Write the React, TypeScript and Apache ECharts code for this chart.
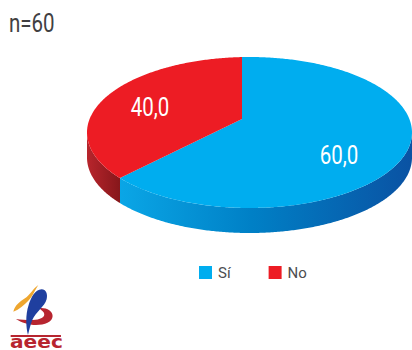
import React, { useEffect, useRef } from "react";
import * as echarts from "echarts";

const categories = ["Sí", "No"];
const shares = [60, 40];
const sliceColors = ["#00adef", "#ed1c24"];
const sampleLabel = "n=60";
const brandName = "aeec";

// Tilted disc geometry
const CX = 249.5;
const CY = 132.5;
const RX = 162.5;
const RY = 75.5;
const DEPTH = 25;
const APEX = { x: 242, y: 119 };
const TILT = 0.352;
const LABEL_SPOTS = [
  [339, 156],
  [150, 108],
];
const SIDE_STOPS = [
  [
    { offset: 0, color: "#0aa6e6" },
    { offset: 0.45, color: "#0080c6" },
    { offset: 1, color: "#0a52a3" },
  ],
  [
    { offset: 0, color: "#b8252c" },
    { offset: 1, color: "#86171b" },
  ],
];
const LABEL_FONT = "Roboto, sans-serif";

// Where a ray from the apex at the given pie angle meets the rim, as an ellipse parameter.
function rimParam(phiDeg: number): number {
  const phi = (phiDeg * Math.PI) / 180;
  const dx = Math.cos(phi);
  const dy = -TILT * Math.sin(phi);
  const ox = (APEX.x - CX) / RX;
  const oy = (APEX.y - CY) / RY;
  const ux = dx / RX;
  const uy = dy / RY;
  const a = ux * ux + uy * uy;
  const b = 2 * (ox * ux + oy * uy);
  const c = ox * ox + oy * oy - 1;
  const s = (-b + Math.sqrt(b * b - 4 * a * c)) / (2 * a);
  return Math.atan2(oy + s * uy, ox + s * ux);
}

function rimPoints(from: number, to: number, yOffset: number): number[][] {
  const steps = Math.max(2, Math.ceil(Math.abs(to - from) / 0.01));
  const pts: number[][] = [];
  for (let i = 0; i <= steps; i++) {
    const t = from + ((to - from) * i) / steps;
    pts.push([CX + RX * Math.cos(t), CY + RY * Math.sin(t) + yOffset]);
  }
  return pts;
}

const total = shares.reduce((sum, v) => sum + v, 0);

function renderSlice(index: number) {
  return (_params: any, api: any) => {
    const value = api.value(0) as number;
    const before = shares.slice(0, index).reduce((sum, v) => sum + v, 0);
    // Slices run clockwise from twelve o'clock.
    const phiStart = 90 - (before / total) * 360;
    const phiEnd = phiStart - (value / total) * 360;
    let tStart = rimParam(phiStart);
    let tEnd = rimParam(phiEnd);
    while (tEnd <= tStart) tEnd += Math.PI * 2;

    const children: any[] = [];

    // Only the rim between t = 0 and t = PI faces the viewer.
    for (const turn of [-2, 0, 2]) {
      const lo = Math.max(tStart, turn * Math.PI);
      const hi = Math.min(tEnd, (turn + 1) * Math.PI);
      if (hi <= lo) continue;
      const top = rimPoints(lo, hi, 0);
      const bottom = rimPoints(hi, lo, DEPTH);
      const xs = top.map((p) => p[0]);
      const minX = Math.min(...xs);
      const maxX = Math.max(...xs);
      children.push({
        type: "polygon",
        shape: { points: [...top, ...bottom] },
        style: {
          fill: new echarts.graphic.LinearGradient(
            minX,
            0,
            maxX,
            0,
            SIDE_STOPS[index],
            true
          ),
        },
      });
    }

    children.push({
      type: "polygon",
      shape: { points: [[APEX.x, APEX.y], ...rimPoints(tStart, tEnd, 0)] },
      style: { fill: sliceColors[index] },
    });

    children.push({
      type: "text",
      x: LABEL_SPOTS[index][0],
      y: LABEL_SPOTS[index][1],
      scaleX: 0.82,
      style: {
        text: value.toFixed(1).replace(".", ","),
        fill: "#ffffff",
        font: `400 25px ${LABEL_FONT}`,
        align: "center",
        verticalAlign: "middle",
      },
    });

    return { type: "group", children };
  };
}

const logoSwoosh =
  "M40 125 C45 105 60 95 75 85 C90 75 100 55 115 45 C105 60 98 80 85 92 C72 105 58 118 40 125 Z";
const logoDrop =
  "M125 58 C138 58 144 72 140 88 C134 110 108 125 97 150 C91 165 88 180 84 195 C78 170 76 135 86 105 C92 85 105 58 125 58 Z";
const logoBowl =
  "M48 147 C62 149 78 150 92 150 C110 150 134 147 133 132 C132 124 124 122 118 114 C140 112 158 122 158 138 C158 156 134 165 108 165 C86 165 64 158 48 147 Z";

echarts.graphic.registerShape("logoSwoosh", echarts.graphic.extendPath(logoSwoosh, {}) as any);
echarts.graphic.registerShape("logoDrop", echarts.graphic.extendPath(logoDrop, {}) as any);
echarts.graphic.registerShape("logoBowl", echarts.graphic.extendPath(logoBowl, {}) as any);

export default function App() {
  const ref = useRef<HTMLDivElement>(null);

  useEffect(() => {
    if (!ref.current) return;
    const chart = echarts.init(ref.current, undefined, { renderer: "svg" });
    chart.setOption({
      animation: false,
      backgroundColor: "#ffffff",
      legend: {
        data: categories,
        left: 199,
        top: 265,
        icon: "rect",
        itemWidth: 13,
        itemHeight: 13,
        itemGap: 38,
        selectedMode: false,
        textStyle: {
          color: "#4d4d4f",
          fontFamily: "Roboto, sans-serif",
          fontSize: 15,
          padding: [0, 0, 0, 1],
        },
        padding: 0,
      },
      series: categories.map((name, i) => ({
        type: "custom",
        name,
        coordinateSystem: "none",
        clip: false,
        itemStyle: { color: sliceColors[i] },
        data: [[shares[i]]],
        renderItem: renderSlice(i),
      })),
      graphic: [
        {
          type: "text",
          x: 9,
          y: 24,
          scaleX: 0.82,
          style: {
            text: sampleLabel,
            fill: "#414042",
            font: `400 25px ${LABEL_FONT}`,
            verticalAlign: "middle",
          },
        },
        {
          type: "group",
          x: 0,
          y: 270,
          scaleX: 1 / 3,
          scaleY: 1 / 3,
          children: [
            { type: "logoSwoosh", style: { fill: "#eea62f" } },
            { type: "logoBowl", style: { fill: "#b7252f" } },
            { type: "logoDrop", style: { fill: "#1f3f9f" } },
            {
              type: "rect",
              shape: { x: 32, y: 195, width: 151, height: 6 },
              style: { fill: "#b7252f" },
            },
          ],
        },
        {
          type: "text",
          x: 10,
          y: 341,
          scaleX: 1.55,
          scaleY: 1.35,
          style: {
            text: brandName,
            fill: "#b7252f",
            font: 'bold 13px "DejaVu Sans", sans-serif',
            verticalAlign: "middle",
          },
        },
      ],
    });
    return () => chart.dispose();
  }, []);

  return (
    <div
      ref={ref}
      style={{ position: "fixed", left: 0, top: 0, width: 412, height: 350 }}
    />
  );
}
